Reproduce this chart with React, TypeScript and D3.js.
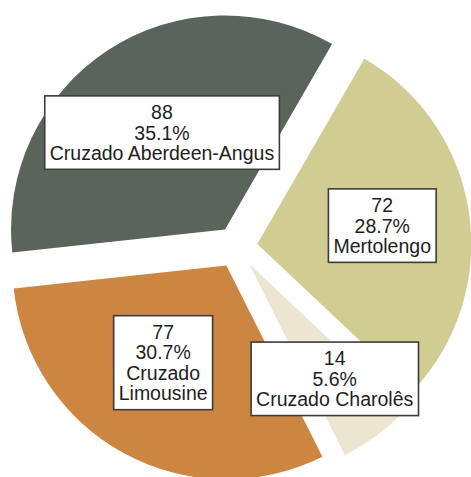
import React, { useEffect, useRef } from "react";
import * as d3 from "d3";

const categories = ["Cruzado Aberdeen-Angus", "Mertolengo", "Cruzado Charolês", "Cruzado Limousine"];
const labelLines = [["Cruzado Aberdeen-Angus"], ["Mertolengo"], ["Cruzado Charolês"], ["Cruzado", "Limousine"]];
const counts = [88, 72, 14, 77];
const colors = ["#5a645b", "#d1cc91", "#ece6d1", "#cd8641"];

const W = 471;
const H = 477;

export default function App() {
  const ref = useRef<SVGSVGElement>(null);

  useEffect(() => {
    const svg = d3.select(ref.current);
    svg.selectAll("*").remove();

    const cx = 236.5;
    const cy = 247;
    const r = 214;
    const explode = 21;
    const labelFrac = [0.54, 0.59, 0.67, 0.542];
    const labelTurn = [0, 0, 0, 3.8];
    const total = d3.sum(counts);
    const start = (-96.2 * Math.PI) / 180;

    const pie = d3
      .pie<number>()
      .sort(null)
      .value((d) => d)
      .startAngle(start)
      .endAngle(start + 2 * Math.PI);
    const arcs = pie(counts);
    const arc = d3.arc<d3.PieArcDatum<number>>().innerRadius(0).outerRadius(r);
    const fmt = d3.format(".1%");

    const g = svg.append("g").attr("transform", `translate(${cx},${cy})`);

    arcs.forEach((a, i) => {
      const mid = (a.startAngle + a.endAngle) / 2;
      const ox = Math.sin(mid) * explode;
      const oy = -Math.cos(mid) * explode;
      g.append("path")
        .attr("d", arc(a) as string)
        .attr("transform", `translate(${ox},${oy})`)
        .attr("fill", colors[i]);
    });

    const lineH = 20.5;
    arcs.forEach((a, i) => {
      const mid = (a.startAngle + a.endAngle) / 2 + (labelTurn[i] * Math.PI) / 180;
      const lx = Math.sin(mid) * (explode + r * labelFrac[i]);
      const ly = -Math.cos(mid) * (explode + r * labelFrac[i]);
      const lines = [String(counts[i]), fmt(counts[i] / total), ...labelLines[i]];
      const lg = g.append("g").attr("transform", `translate(${lx},${ly})`);
      const rect = lg.append("rect");
      const t = lg
        .append("text")
        .attr("text-anchor", "middle")
        .attr("font-family", "'Liberation Sans', Arial, sans-serif")
        .attr("font-size", 19.5)
        .attr("fill", "#1e1e1e");
      const n = lines.length;
      lines.forEach((s, k) => {
        t.append("tspan")
          .attr("x", 0)
          .attr("y", (k - (n - 1) / 2) * lineH)
          .attr("dy", "0.36em")
          .text(s);
      });
      const bb = (t.node() as SVGTextElement).getBBox();
      const padX = 5;
      const padY = 6;
      const h = n * lineH + 2 * padY;
      rect
        .attr("x", bb.x - padX)
        .attr("y", -h / 2)
        .attr("width", bb.width + 2 * padX)
        .attr("height", h)
        .attr("fill", "#ffffff")
        .attr("stroke", "#3c3c3c")
        .attr("stroke-width", 1.6);
    });
  }, []);

  return (
    <div style={{ position: "fixed", left: 0, top: 0, width: W, height: H, background: "#fff" }}>
      <svg ref={ref} width={W} height={H} />
    </div>
  );
}
